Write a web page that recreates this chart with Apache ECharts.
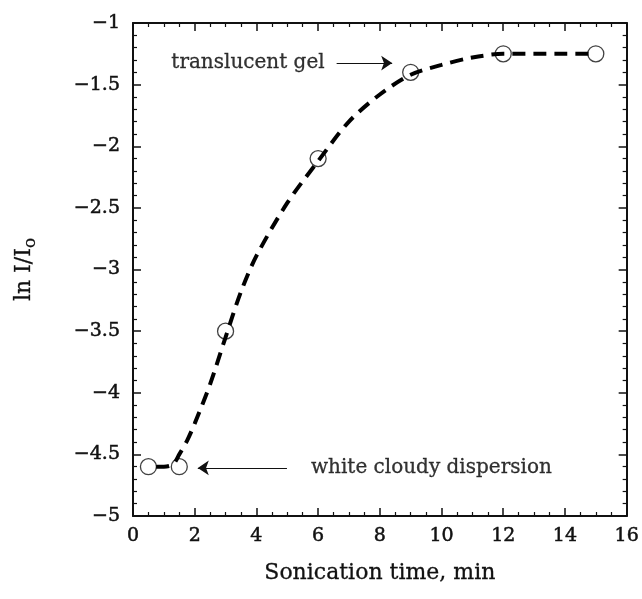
<!DOCTYPE html>
<html>
<head>
<meta charset="utf-8">
<script src="https://cdn.jsdelivr.net/npm/echarts@6/dist/echarts.min.js"></script>
<style>
  html, body { margin: 0; padding: 0; background: #fff; }
  #chart { width: 642px; height: 599px; }
</style>
</head>
<body>
<div id="chart"></div>
<script>
// measured points
const timeMin = [0.5, 1.5, 3, 6, 9, 12, 15]
const lnI = [-4.6, -4.6, -3.5, -2.1, -1.4, -1.25, -1.25]

// dashed fit curve
const fitX = [0.75, 1.0, 1.3, 1.5, 1.75, 2, 2.5, 3, 3.5, 4, 5, 6, 7, 8, 9, 10, 11, 12, 13, 14, 15]
const fitY = [-4.6, -4.6, -4.58, -4.5, -4.39, -4.25, -3.93, -3.55, -3.18, -2.89, -2.46, -2.12, -1.8, -1.58, -1.42, -1.34, -1.28, -1.25, -1.25, -1.25, -1.25]

// annotations: [arrow start x, arrow end x, y]
const gelArrow = [6.6, 8.4, -1.325]
const cloudyArrow = [4.99, 2.1, -4.61]

const FONT = 'DejaVu Serif'
const INK = '#111'
const minus = v => String(v).replace('-', '\u2212')

const chart = echarts.init(document.getElementById('chart'))

const axisCommon = {
    axisLine: { onZero: false, lineStyle: { color: INK, width: 2 } },
    axisTick: { inside: true, length: 8, lineStyle: { color: INK, width: 1.5 } },
    minorTick: { show: true, length: 4, lineStyle: { color: INK, width: 1.2 } },
    splitLine: { show: false }
}

const tickFont = {
    color: INK, fontFamily: FONT, fontSize: 19,
    textBorderColor: INK, textBorderWidth: 0.5
}

const option = {
    animation: false,
    grid: { left: 133, right: 15, top: 23, bottom: 83 },
    xAxis: [
        {
            ...axisCommon,
            type: 'value', min: 0, max: 16, interval: 2,
            minorTick: { ...axisCommon.minorTick, splitNumber: 4 },
            axisLabel: { ...tickFont, margin: 11, formatter: minus },
            name: 'Sonication time, min',
            nameLocation: 'middle',
            nameGap: 46,
            nameTextStyle: { color: INK, fontFamily: FONT, fontSize: 22, textBorderColor: INK, textBorderWidth: 0.3 }
        },
        {
            ...axisCommon,
            type: 'value', min: 0, max: 16, interval: 2, position: 'top',
            minorTick: { ...axisCommon.minorTick, splitNumber: 4 },
            axisLabel: { show: false }
        }
    ],
    yAxis: [
        {
            ...axisCommon,
            type: 'value', min: -5, max: -1, interval: 0.5,
            minorTick: { ...axisCommon.minorTick, splitNumber: 5 },
            axisLabel: { ...tickFont, margin: 13, formatter: minus },
            name: 'ln I/I{sub|o}',
            nameLocation: 'middle',
            nameGap: 94,
            nameTextStyle: {
                color: INK, fontFamily: FONT, fontSize: 22, textBorderColor: INK, textBorderWidth: 0.3,
                rich: { sub: { fontFamily: FONT, fontSize: 17, color: INK, textBorderColor: INK, textBorderWidth: 0.3, verticalAlign: 'bottom', padding: [12, 0, 0, 0] } }
            }
        },
        {
            ...axisCommon,
            type: 'value', min: -5, max: -1, interval: 0.5, position: 'right',
            minorTick: { ...axisCommon.minorTick, splitNumber: 5 },
            axisLabel: { show: false }
        }
    ],
    series: [
        {
            type: 'scatter',
            data: timeMin.map((x, i) => [x, lnI[i]]),
            symbol: 'circle',
            symbolSize: 16,
            itemStyle: { color: 'rgba(255,255,255,0)', borderColor: INK, borderWidth: 1.3 },
            z: 2
        },
        {
            type: 'line',
            data: fitX.map((x, i) => [x, fitY[i]]),
            smooth: 0.3,
            showSymbol: false,
            lineStyle: { color: '#000', width: 4, type: [13, 8] },
            z: 3,
            markLine: {
                silent: true,
                symbol: ['none', 'arrow'],
                symbolSize: 11,
                lineStyle: { color: INK, width: 1, type: 'solid' },
                label: { show: false },
                data: [
                    [{ coord: [gelArrow[0], gelArrow[2]] }, { coord: [gelArrow[1], gelArrow[2]] }],
                    [{ coord: [cloudyArrow[0], cloudyArrow[2]] }, { coord: [cloudyArrow[1], cloudyArrow[2]] }]
                ]
            }
        },
        {
            type: 'scatter',
            symbolSize: 0,
            data: [
                { value: [gelArrow[0], gelArrow[2]], name: 'translucent gel', label: { position: 'left', distance: 12 } },
                { value: [cloudyArrow[0], cloudyArrow[2]], name: 'white cloudy dispersion', label: { position: 'right', distance: 24 } }
            ],
            label: {
                show: true,
                formatter: p => p.name,
                color: '#000',
                fontFamily: FONT,
                fontSize: 20,
                textBorderColor: '#000',
                textBorderWidth: 0.3
            },
            silent: true
        }
    ]
}

chart.setOption(option)
</script>
</body>
</html>
